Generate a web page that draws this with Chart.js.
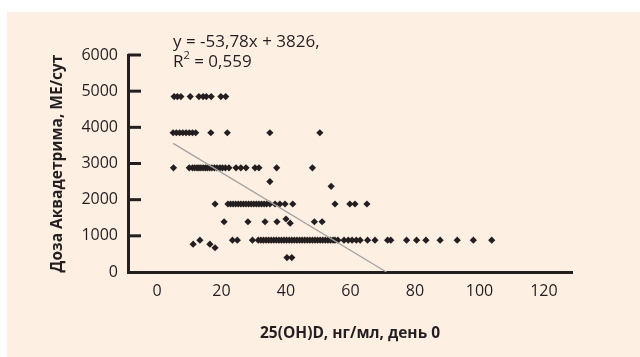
<!DOCTYPE html>
<html>
<head>
<meta charset="utf-8">
<script src="https://cdn.jsdelivr.net/npm/chart.js@4/dist/chart.umd.min.js"></script>
<style>
html, body { margin: 0; padding: 0; background: #fff; }
</style>
</head>
<body>
<canvas id="canvas1" width="640" height="357"></canvas>
<script>
"use strict";

// ticks
let xTicks = [0, 20, 40, 60, 80, 100, 120];
let yTicks = [0, 1000, 2000, 3000, 4000, 5000, 6000];

// 25(OH)D values for each dose row (dose)
let x4850 = [5.3, 6.3, 7.4, 10.3, 13.0, 14.3, 15.3, 16.8, 19.8, 21.3];
let x3850 = [5, 6, 7, 8, 9, 10, 11, 12, 16.7, 21.8, 35, 50.5];
let x2880 = [5.1, 10, 11, 11.7, 12.4, 13, 13.6, 14.3, 15, 15.6, 16.3, 17, 17.8, 18.6, 19.5,
    20.3, 21.2, 22.3, 24.5, 26, 27.6, 30.4, 31.6, 37.1, 48.2];
let x1880 = [18, 22, 22.8, 23.6, 24.4, 25.2, 26, 26.8, 27.6, 28.4, 29.2, 30, 30.8, 31.6, 32.4,
    33.2, 34, 35, 36.6, 38.1, 39.7, 42.1, 55.2, 59.8, 61.4, 65.1];
let x1390 = [20.8, 28.2, 33.5, 37.2, 48.8, 51.2];
let x880 = [13.3, 23.4, 24.9, 29.6, 31.4, 32.2, 33, 33.8, 34.6, 35.4, 36.2, 37, 37.8, 38.6, 39.4,
    40.2, 41, 41.8, 42.6, 43.4, 44.2, 45, 45.8, 46.6, 47.4, 48.2, 49, 49.8, 50.6, 51.4, 52.2,
    53, 53.8, 54.6, 55.2, 56.1, 58, 59.3, 60.5, 61.8, 63, 65.3, 67.6, 71.5, 72.5, 77.4, 80.5,
    83.4, 87.8, 93.1, 98.1, 103.8];
let x400 = [40.3, 41.8];

// points off the rows
let oddX = [35, 54, 40, 41.3, 11.2, 16.4, 18];
let oddY = [2500, 2370, 1465, 1350, 770, 770, 670];

// regression y = -53,78x + 3826
let trendSlope = -53.78;
let trendIntercept = 3826;
let trendFrom = 5;
let trendTo = 71.14;

let rows = [[4850, x4850], [3850, x3850], [2880, x2880], [1880, x1880], [1390, x1390], [880, x880], [400, x400]];
let pts = [];
rows.forEach(r => r[1].forEach(x => pts.push({ x: x, y: r[0] })));
oddX.forEach((x, i) => pts.push({ x: x, y: oddY[i] }));

let ink = "#231F20";
let peach = "#FDF0E3";

let decor = {
    id: "decor",
    beforeDraw(chart) {
        let c = chart.ctx;
        c.save();
        c.fillStyle = "#fff";
        c.fillRect(0, 0, chart.width, chart.height);
        c.fillStyle = peach;
        c.fillRect(7, 12, chart.width - 7, chart.height - 12);
        c.restore();
    },
    afterDraw(chart) {
        let c = chart.ctx;
        let ys = chart.scales.y;
        let a = chart.chartArea;
        c.save();
        // inner tick marks
        c.strokeStyle = ink;
        c.lineWidth = 3;
        yTicks.slice(1).forEach(v => {
            let py = ys.getPixelForValue(v);
            c.beginPath();
            c.moveTo(a.left, py);
            c.lineTo(a.left + 13, py);
            c.stroke();
        });
        // equation
        c.fillStyle = ink;
        c.textBaseline = "middle";
        c.font = "17px 'Open Sans'";
        c.fillText("y = -53,78x + 3826,", 173, 42);
        c.fillText("R", 173, 62);
        let w = c.measureText("R").width;
        c.font = "11px 'Open Sans'";
        c.fillText("2", 173 + w, 56);
        let w2 = c.measureText("2").width;
        c.font = "17px 'Open Sans'";
        c.fillText(" = 0,559", 173 + w + w2, 62);
        c.restore();
    }
};

let canvas1 = document.querySelector("#canvas1");

let opts = {
    type: "scatter",
    data: {
        datasets: [
            {
                label: "trend",
                type: "line",
                data: [
                    { x: trendFrom, y: trendSlope * trendFrom + trendIntercept },
                    { x: trendTo, y: trendSlope * trendTo + trendIntercept }
                ],
                borderColor: "#A5A3A1",
                borderWidth: 1.3,
                pointRadius: 0,
                fill: false
            },
            {
                label: "points",
                data: pts,
                pointStyle: "rectRot",
                pointRadius: 3.6,
                backgroundColor: ink,
                borderColor: ink,
                borderWidth: 0
            }
        ]
    },
    options: {
        responsive: false,
        animation: false,
        layout: { padding: { top: 55, right: 68, left: 0, bottom: 0 } },
        plugins: { legend: { display: false }, tooltip: { enabled: false } },
        scales: {
            x: {
                type: "linear",
                min: -9,
                max: 128.7,
                afterBuildTicks: s => { s.ticks = xTicks.map(v => ({ value: v })); },
                afterFit: s => { s.height = 85; },
                grid: { display: false, drawTicks: false },
                border: { width: 3, color: ink },
                ticks: { padding: 10, color: ink, font: { family: "'Open Sans'", size: 16 }, callback: v => String(v) },
                title: {
                    display: true,
                    text: "25(OH)D, нг/мл, день 0",
                    color: ink,
                    font: { family: "'Open Sans'", size: 15.5, weight: "bold" },
                    padding: { top: 0, bottom: 14 }
                }
            },
            y: {
                min: 0,
                max: 6000,
                afterBuildTicks: s => { s.ticks = yTicks.map(v => ({ value: v })); },
                afterFit: s => { s.width = 128; },
                grid: { display: false, drawTicks: false },
                border: { width: 3, color: ink },
                ticks: { padding: 10, color: ink, font: { family: "'Open Sans'", size: 16 }, callback: v => String(v) },
                title: {
                    display: true,
                    text: "Доза Аквадетрима, МЕ/сут",
                    color: ink,
                    font: { family: "'Open Sans'", size: 15.5, weight: "bold" },
                    padding: { top: 48, bottom: 0 }
                }
            }
        }
    },
    plugins: [decor]
};

let chart1 = new Chart(canvas1, opts);
</script>
</body>
</html>
